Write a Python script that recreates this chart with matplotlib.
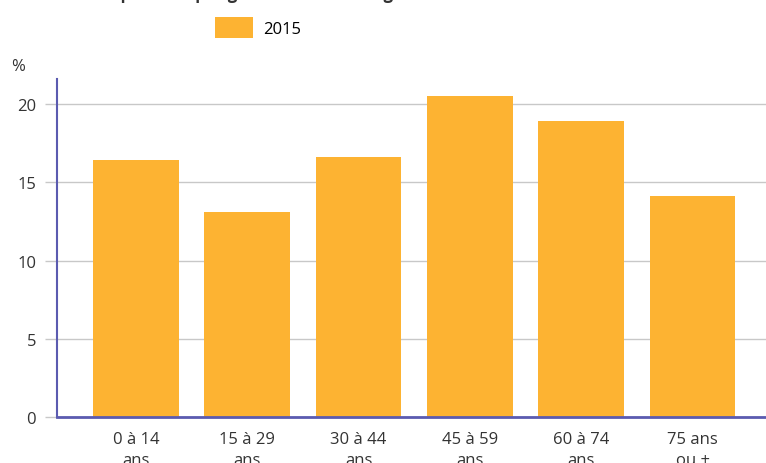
import numpy as np
from matplotlib import pyplot as plt

# Population par grande tranche d'âge, 2015 (en %)
categories = ["0 à 14\nans", "15 à 29\nans", "30 à 44\nans", "45 à 59\nans", "60 à 74\nans", "75 ans\nou +"]
values_2015 = [16.4, 13.1, 16.6, 20.5, 18.9, 14.1]
y_ticks = [0, 5, 10, 15, 20]

bar_color = "#FDB332"
axis_color = "#5B5BB0"
grid_color = "#C8C8C8"
text_color = "#333333"
font_size = 12

plt.rcParams["font.family"] = ["Open Sans", "DejaVu Sans"]

fig = plt.figure(figsize=(7.66, 4.64), dpi=100)
ax = fig.add_axes([57 / 766, 1 - 418 / 464, 1 - 57 / 766, (418 - 80) / 464])

x = np.arange(len(categories))
ax.bar(x, values_2015, width=0.77, color=bar_color, label="2015", zorder=3)

ax.set_xlim(-0.71, 5.66)
ax.set_ylim(0, 21.6)
ax.set_yticks(y_ticks)
ax.set_yticklabels([str(t) for t in y_ticks], fontsize=font_size, color=text_color)
ax.yaxis.grid(True, color=grid_color, linewidth=1, zorder=0)

ax.set_xticks(x)
ax.set_xticklabels(categories, fontsize=font_size, color=text_color, linespacing=1.45)
ax.tick_params(axis="x", length=0, pad=10)
ax.tick_params(axis="y", length=9, color=grid_color, width=1, pad=6)

for side in ("top", "right"):
    ax.spines[side].set_visible(False)
ax.spines["left"].set_color(axis_color)
ax.spines["left"].set_linewidth(1.5)
ax.spines["bottom"].set_color(axis_color)
ax.spines["bottom"].set_linewidth(2)
ax.spines["bottom"].set_zorder(4)

fig.text(11 / 766, 1 - 71 / 464, "%", fontsize=font_size, color=text_color)

# title sits mostly above the canvas
fig.text(100 / 766, 1.0 + 1 / 464, "Population par grande tranche d'âge",
         fontsize=12, fontweight="bold", color=text_color, va="baseline")

ax.legend(loc="upper left", bbox_to_anchor=(215 / 766, 1 - 18 / 464),
          bbox_transform=fig.transFigure, frameon=False, fontsize=font_size,
          handlelength=2.3, handleheight=1.6, handletextpad=0.6,
          borderpad=0, borderaxespad=0)

plt.savefig("out.png", dpi=100)
